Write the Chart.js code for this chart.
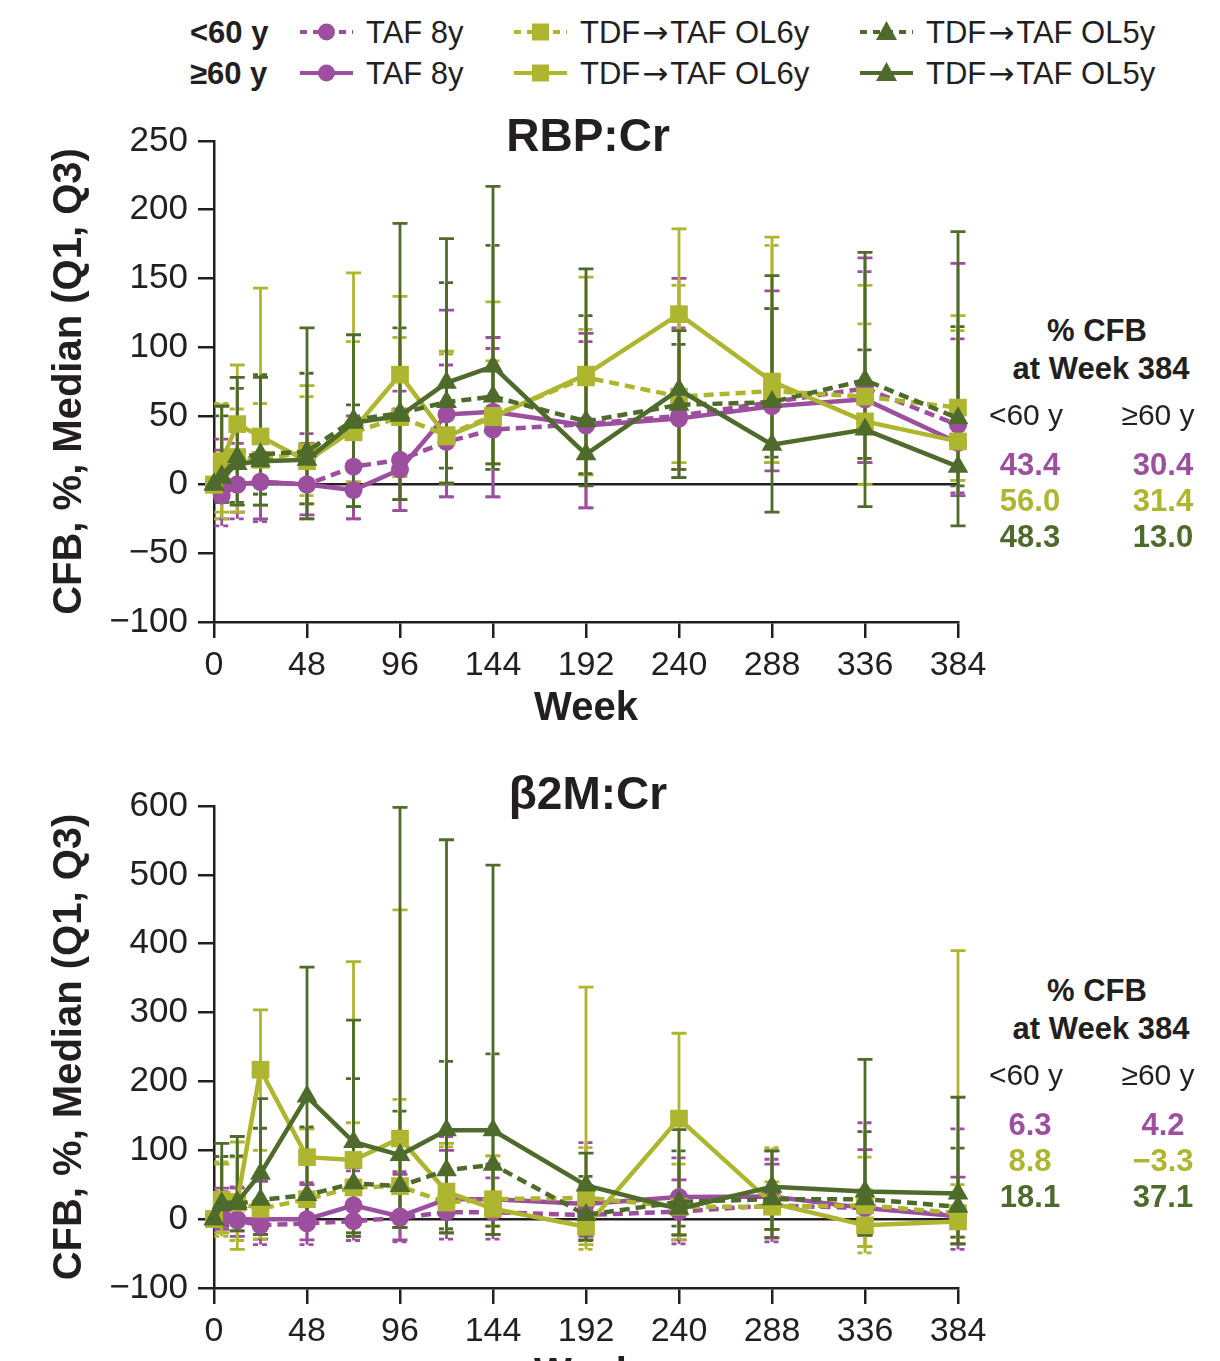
<!DOCTYPE html>
<html>
<head>
<meta charset="utf-8">
<script src="https://cdn.jsdelivr.net/npm/chart.js@4.4.1/dist/chart.umd.min.js"></script>
<style>
html, body { margin: 0; padding: 0; background: #fff; width: 1220px; height: 1361px; overflow: hidden; }
body { position: relative; font-family: 'Liberation Sans', Arial, Helvetica, sans-serif; color: #231f20; }
.t { position: absolute; white-space: nowrap; line-height: 1; }
.arrow { font-family: 'DejaVu Sans', sans-serif; font-size: 1em; margin: 0 2px; }
.panel { position: absolute; left: 0; width: 1000px; }
</style>
</head>
<body>
<div class="panel" style="top:100px;height:640px"><canvas id="rbpChart"></canvas></div>
<div class="panel" style="top:760px;height:646px"><canvas id="b2mChart"></canvas></div>
<script>
const weeks = [0, 4, 12, 24, 48, 72, 96, 120, 144, 192, 240, 288, 336, 384];

// RBP:Cr, median % change from baseline and Q1/Q3
const rbpTafYoung   = [0, -8, 0, 2, 0, 13, 18, 31, 40, 44, 50, 60, 70, 43.4];
const rbpTafYoungQ1 = [0, -30, -25, -27, -25, -25, -19, -9, -9, -17, 5, 16, 16, -6];
const rbpTafYoungQ3 = [0, 33, 30, 35, 37, 50, 68, 87, 99, 104, 114, 128, 155, 106];
const rbpTafOld     = [0, -2, 0, 2, 0, -4, 11, 51, 53, 43, 48, 57, 62, 30.4];
const rbpTafOldQ1   = [0, -25, -20, -25, -22, -25, -19, -9, -9, -17, 11, 10, 16, -8];
const rbpTafOldQ3   = [0, 25, 25, 30, 30, 45, 55, 127, 107, 110, 150, 141, 165, 161];
const rbpOl6Young   = [0, 13, 20, 18, 24, 38, 49, 36, 50, 78, 64, 68, 64, 56.0];
const rbpOl6YoungQ1 = [0, -25, -13, -7, -8, 2, 6, 1, 11, 7, 11, 16, 19, 3];
const rbpOl6YoungQ3 = [0, 59, 55, 59, 64, 104, 107, 95, 90, 113, 145, 174, 117, 112];
const rbpOl6Old     = [0, 17, 44, 35, 17, 40, 80, 35, 49, 80, 124, 75, 46, 31.4];
const rbpOl6OldQ1   = [0, -20, -20, -15, -14, 2, 6, 1, 15, 7, 16, 16, 0, 3];
const rbpOl6OldQ3   = [0, 58, 87, 143, 72, 154, 137, 97, 133, 151, 186, 180, 145, 123];
const rbpOl5Young   = [0, 6, 20, 22, 24, 47, 52, 60, 64, 46, 58, 60, 76, 48.3];
const rbpOl5YoungQ1 = [0, -13, -13, -7, -14, -16, -11, 12, 11, 8, 11, 20, 19, -1];
const rbpOl5YoungQ3 = [0, 50, 70, 80, 81, 58, 114, 147, 174, 123, 102, 128, 98, 115];
const rbpOl5Old     = [0, 5, 15, 17, 18, 45, 50, 74, 86, 22, 69, 29, 40, 13.0];
const rbpOl5OldQ1   = [0, -13, -15, -15, -25, -16, -11, 1, 15, -1, 5, -20, -16, -30];
const rbpOl5OldQ3   = [0, 57, 78, 78, 114, 109, 190, 179, 217, 157, 112, 152, 169, 184];

// β2M:Cr
const b2mTafYoung   = [0, 0, -2, -9, -6, -3, 2, 10, 10, 6, 11, 20, 16, 6.3];
const b2mTafYoungQ1 = [0, -20, -31, -37, -37, -31, -33, -29, -29, -31, -36, -33, -40, -44];
const b2mTafYoungQ3 = [0, 40, 47, 60, 53, 70, 69, 120, 60, 111, 89, 87, 140, 131];
const b2mTafOld     = [0, 5, 0, 0, 0, 20, 4, 29, 29, 22, 32, 33, 16, 4.2];
const b2mTafOldQ1   = [0, -15, -25, -29, -30, -25, -30, -20, -22, -25, -30, -27, -23, -36];
const b2mTafOldQ3   = [0, 45, 45, 55, 50, 75, 65, 100, 80, 49, 57, 80, 101, 61];
const b2mOl6Young   = [0, 28, 24, 15, 29, 46, 48, 24, 29, 31, 18, 18, 20, 8.8];
const b2mOl6YoungQ1 = [0, -25, -31, -29, -10, -25, -12, -14, -22, -44, -30, -15, -49, -36];
const b2mOl6YoungQ3 = [0, 83, 90, 100, 131, 140, 174, 105, 92, 104, 80, 104, 90, 50];
const b2mOl6Old     = [0, 25, 25, 217, 90, 86, 117, 40, 15, -11, 146, 23, -9, -3.3];
const b2mOl6OldQ1   = [0, -20, -44, -22, -5, -20, -12, -20, -10, -37, -23, -15, -40, -26];
const b2mOl6OldQ3   = [0, 80, 112, 304, 131, 374, 449, 110, 92, 337, 270, 54, 43, 390];
const b2mOl5Young   = [0, 20, 22, 28, 35, 52, 48, 71, 79, 6, 25, 29, 29, 18.1];
const b2mOl5YoungQ1 = [0, -10, -17, -22, -10, -25, -12, -14, -10, -31, -10, -27, -23, -26];
const b2mOl5YoungQ3 = [0, 91, 92, 132, 134, 204, 157, 229, 240, 62, 99, 99, 127, 103];
const b2mOl5Old     = [0, 23, 25, 66, 178, 112, 93, 129, 129, 49, 15, 47, 40, 37.1];
const b2mOl5OldQ1   = [0, -10, -17, -22, -5, -20, -12, -20, -22, -30, -23, -15, -23, -36];
const b2mOl5OldQ3   = [0, 110, 120, 175, 366, 289, 598, 551, 514, 96, 130, 99, 232, 177];

const groupLabels = ['TAF 8y', 'TDF→TAF OL6y', 'TDF→TAF OL5y'];
const ageLabels = ['<60 y', '≥60 y'];
const rbpTicks = [-100, 250, 50];
const b2mTicks = [-100, 600, 100];

const ink = '#231f20';
const groupColors = ['#9d4f9f', '#aeb52f', '#4e6b2b'];
const groupPoints = ['circle', 'rect', 'triangle'];
const groupRadius = [9, 12.5, 12];
const FONT = "'Liberation Sans', Arial, Helvetica, sans-serif";

function series(label, values, q1, q3, group, dashed, order) {
    return {
        label: label,
        data: weeks.map((w, i) => ({ x: w, y: values[i] })),
        q1: q1,
        q3: q3,
        borderColor: groupColors[group],
        backgroundColor: groupColors[group],
        borderWidth: 4.5,
        borderDash: dashed ? [10, 6] : [],
        pointStyle: groupPoints[group],
        pointRadius: groupRadius[group],
        pointBorderWidth: 0,
        tension: 0,
        clip: false,
        order: order
    };
}

// vertical Q1-Q3 whiskers behind the lines
const errorBars = {
    id: 'errorBars',
    beforeDatasetsDraw(chart) {
        const { ctx, scales: { x, y } } = chart;
        ctx.save();
        ctx.lineWidth = 2.8;
        chart.data.datasets.forEach(ds => {
            ctx.strokeStyle = ds.borderColor;
            weeks.forEach((w, i) => {
                const lo = ds.q1[i], hi = ds.q3[i];
                if (lo === hi) return;
                const px = x.getPixelForValue(w);
                const top = y.getPixelForValue(hi);
                const bot = y.getPixelForValue(lo);
                ctx.setLineDash([]);
                ctx.beginPath();
                ctx.moveTo(px, top);
                ctx.lineTo(px, bot);
                ctx.stroke();
                ctx.setLineDash(ds.borderDash.length ? [5, 4] : []);
                ctx.beginPath();
                ctx.moveTo(px - 7.5, top); ctx.lineTo(px + 7.5, top);
                ctx.moveTo(px - 7.5, bot); ctx.lineTo(px + 7.5, bot);
                ctx.stroke();
            });
        });
        ctx.restore();
    }
};

function makeChart(id, datasets, yTicks, padTop) {
    const [yMin, yMax, yStep] = yTicks;
    return new Chart(document.getElementById(id), {
        type: 'line',
        data: { datasets: datasets },
        options: {
            responsive: true,
            maintainAspectRatio: false,
            animation: false,
            layout: { padding: { top: padTop, right: 42, left: 0, bottom: 0 } },
            plugins: { legend: { display: false }, tooltip: { enabled: false } },
            scales: {
                x: {
                    type: 'linear',
                    min: 0,
                    max: 384,
                    afterFit: s => { s.height = 118; },
                    ticks: { stepSize: 48, color: ink, padding: 7, font: { family: FONT, size: 34 } },
                    grid: { drawOnChartArea: false, color: ink, lineWidth: 2.5, tickLength: 16 },
                    border: { color: ink, width: 2.5 },
                    title: { display: true, text: 'Week', color: ink, padding: { bottom: 7 },
                             font: { family: FONT, size: 40, weight: 'bold' } }
                },
                y: {
                    min: yMin,
                    max: yMax,
                    afterFit: s => { s.width = 214; },
                    ticks: {
                        stepSize: yStep, color: ink, padding: 10,
                        font: { family: FONT, size: 35 },
                        callback: v => (v < 0 ? '−' + Math.abs(v) : String(v))
                    },
                    grid: {
                        color: c => (c.tick && c.tick.value === 0 ? ink : 'rgba(0,0,0,0)'),
                        tickColor: ink, lineWidth: 2.5, tickLength: 16
                    },
                    border: { color: ink, width: 2.5 },
                    title: { display: true, text: 'CFB, %, Median (Q1, Q3)', color: ink, padding: { top: 46 },
                             font: { family: FONT, size: 40, weight: 'bold' } }
                }
            }
        },
        plugins: [errorBars]
    });
}

makeChart('rbpChart', [
    series('TAF 8y <60 y', rbpTafYoung, rbpTafYoungQ1, rbpTafYoungQ3, 0, true, 6),
    series('TAF 8y ≥60 y', rbpTafOld, rbpTafOldQ1, rbpTafOldQ3, 0, false, 5),
    series('TDF→TAF OL6y <60 y', rbpOl6Young, rbpOl6YoungQ1, rbpOl6YoungQ3, 1, true, 4),
    series('TDF→TAF OL6y ≥60 y', rbpOl6Old, rbpOl6OldQ1, rbpOl6OldQ3, 1, false, 3),
    series('TDF→TAF OL5y <60 y', rbpOl5Young, rbpOl5YoungQ1, rbpOl5YoungQ3, 2, true, 2),
    series('TDF→TAF OL5y ≥60 y', rbpOl5Old, rbpOl5OldQ1, rbpOl5OldQ3, 2, false, 1)
], rbpTicks, 41);

makeChart('b2mChart', [
    series('TAF 8y <60 y', b2mTafYoung, b2mTafYoungQ1, b2mTafYoungQ3, 0, true, 6),
    series('TAF 8y ≥60 y', b2mTafOld, b2mTafOldQ1, b2mTafOldQ3, 0, false, 5),
    series('TDF→TAF OL6y <60 y', b2mOl6Young, b2mOl6YoungQ1, b2mOl6YoungQ3, 1, true, 4),
    series('TDF→TAF OL6y ≥60 y', b2mOl6Old, b2mOl6OldQ1, b2mOl6OldQ3, 1, false, 3),
    series('TDF→TAF OL5y <60 y', b2mOl5Young, b2mOl5YoungQ1, b2mOl5YoungQ3, 2, true, 2),
    series('TDF→TAF OL5y ≥60 y', b2mOl5Old, b2mOl5OldQ1, b2mOl5OldQ3, 2, false, 1)
], b2mTicks, 46);

// ---- text: titles, legend, week-384 summary ----
function addText(text, x, y, size, opts = {}) {
    const d = document.createElement('div');
    d.className = 't';
    // the arrow glyph is tiny in Liberation Sans, borrow DejaVu's
    text.split('→').forEach((part, i) => {
        if (i > 0) {
            const a = document.createElement('span');
            a.className = 'arrow';
            a.textContent = '→';
            d.appendChild(a);
        }
        d.appendChild(document.createTextNode(part));
    });
    d.style.left = x + 'px';
    d.style.top = y + 'px';
    d.style.fontSize = size + 'px';
    d.style.fontWeight = opts.bold ? 'bold' : 'normal';
    d.style.color = opts.color || ink;
    d.style.transform = opts.left ? 'translate(0,-50%)' : 'translate(-50%,-50%)';
    document.body.appendChild(d);
    return d;
}

function legendMarker(x, y, group, dashed) {
    const c = groupColors[group];
    const svgNS = 'http://www.w3.org/2000/svg';
    const svg = document.createElementNS(svgNS, 'svg');
    svg.setAttribute('width', 54);
    svg.setAttribute('height', 24);
    svg.style.position = 'absolute';
    svg.style.left = x + 'px';
    svg.style.top = (y - 12) + 'px';
    const line = document.createElementNS(svgNS, 'line');
    line.setAttribute('x1', 0); line.setAttribute('x2', 53);
    line.setAttribute('y1', 12); line.setAttribute('y2', 12);
    line.setAttribute('stroke', c);
    line.setAttribute('stroke-width', 4);
    if (dashed) line.setAttribute('stroke-dasharray', '7 6');
    svg.appendChild(line);
    let m;
    if (group === 0) {
        m = document.createElementNS(svgNS, 'circle');
        m.setAttribute('cx', 26.5); m.setAttribute('cy', 12); m.setAttribute('r', 8.5);
    } else if (group === 1) {
        m = document.createElementNS(svgNS, 'rect');
        m.setAttribute('x', 18); m.setAttribute('y', 3.5); m.setAttribute('width', 17); m.setAttribute('height', 17);
    } else {
        m = document.createElementNS(svgNS, 'polygon');
        m.setAttribute('points', '26.5,1 37,20 16,20');
    }
    m.setAttribute('fill', c);
    svg.appendChild(m);
    document.body.appendChild(svg);
}

const legendRows = [32, 73];
const legendMarkX = [300, 514, 860];
const legendTextX = [366, 580, 926];
ageLabels.forEach((age, r) => {
    addText(age, 190, legendRows[r], 31, { bold: true, left: true });
    groupLabels.forEach((g, k) => {
        legendMarker(legendMarkX[k], legendRows[r], k, r === 0);
        addText(g, legendTextX[k], legendRows[r], 31, { left: true });
    });
});

addText('RBP:Cr', 588, 135, 46, { bold: true });
addText('β2M:Cr', 588, 793, 46, { bold: true });

const fmt = v => (v < 0 ? '−' : '') + Math.abs(v).toFixed(1);
function summary(top, young, old) {
    addText('% CFB', 1097, top, 31, { bold: true });
    addText('at Week 384', 1101, top + 38, 31, { bold: true });
    addText(ageLabels[0], 1026, top + 85, 30);
    addText(ageLabels[1], 1158, top + 85, 30);
    young.forEach((v, k) => {
        addText(fmt(v[v.length - 1]), 1030, top + 134 + 36 * k, 31, { bold: true, color: groupColors[k] });
        addText(fmt(old[k][old[k].length - 1]), 1163, top + 134 + 36 * k, 31, { bold: true, color: groupColors[k] });
    });
}
summary(330, [rbpTafYoung, rbpOl6Young, rbpOl5Young], [rbpTafOld, rbpOl6Old, rbpOl5Old]);
summary(990, [b2mTafYoung, b2mOl6Young, b2mOl5Young], [b2mTafOld, b2mOl6Old, b2mOl5Old]);
</script>
</body>
</html>
